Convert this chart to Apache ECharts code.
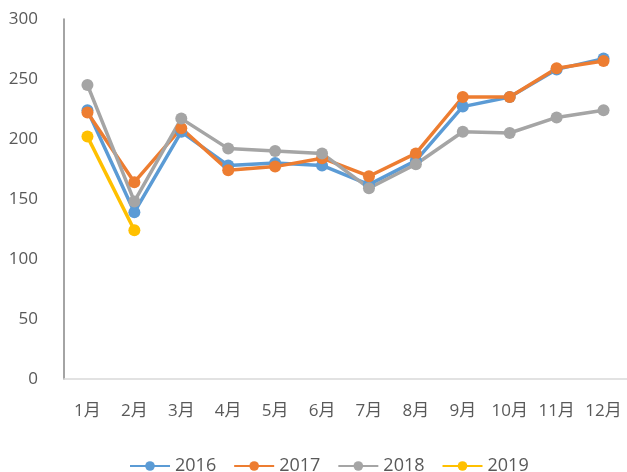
<!DOCTYPE html>
<html>
<head>
<meta charset="utf-8">
<script src="https://cdn.jsdelivr.net/npm/echarts@6/dist/echarts.min.js"></script>
<style>
    html, body { margin: 0; padding: 0; background: #fff; }
    #main { width: 627px; height: 472px; }
</style>
</head>
<body>
<div id="main"></div>
<script>
var months = ['1月','2月','3月','4月','5月','6月','7月','8月','9月','10月','11月','12月'];
var data2016 = [224, 139, 206, 178, 180, 178, 162, 182, 227, 235, 258, 267];
var data2017 = [222, 164, 209, 174, 177, 184, 169, 188, 235, 235, 259, 265];
var data2018 = [245, 148, 217, 192, 190, 188, 159, 179, 206, 205, 218, 224];
var data2019 = [202, 124];

var font = '"Open Sans", "Noto Sans CJK SC", sans-serif';

function makeSeries(name, data, color) {
    return {
        name: name,
        type: 'line',
        data: data,
        symbol: 'circle',
        symbolSize: 12,
        lineStyle: { width: 3.5, color: color },
        itemStyle: { color: color },
        emphasis: { disabled: true }
    };
}

var chart = echarts.init(document.getElementById('main'));
var option = {
    animation: false,
    color: ['#5B9BD5', '#ED7D31', '#A5A5A5', '#FFC000'],
    grid: {
        left: 64,
        top: 19,
        width: 566,
        height: 360
    },
    legend: {
        top: 452,
        left: 124,
        itemWidth: 40,
        itemHeight: 12,
        itemGap: 17,
        textStyle: { color: '#595959', fontSize: 18, fontFamily: font },
        data: ['2016', '2017', '2018', '2019']
    },
    xAxis: {
        type: 'category',
        data: months,
        boundaryGap: true,
        axisLine: { show: true, lineStyle: { color: '#d9d9d9', width: 1.5 } },
        axisTick: { show: false },
        axisLabel: { color: '#595959', fontSize: 17, fontFamily: font, margin: 24, interval: 0 }
    },
    yAxis: {
        type: 'value',
        min: 0,
        max: 300,
        interval: 50,
        splitLine: { show: false },
        axisLine: { show: true, lineStyle: { color: '#868686', width: 1.5 } },
        axisTick: { show: false },
        axisLabel: { color: '#595959', fontSize: 17, fontFamily: font, margin: 26 }
    },
    series: [
        makeSeries('2016', data2016, '#5B9BD5'),
        makeSeries('2017', data2017, '#ED7D31'),
        makeSeries('2018', data2018, '#A5A5A5'),
        makeSeries('2019', data2019, '#FFC000')
    ]
};
chart.setOption(option);
</script>
</body>
</html>
